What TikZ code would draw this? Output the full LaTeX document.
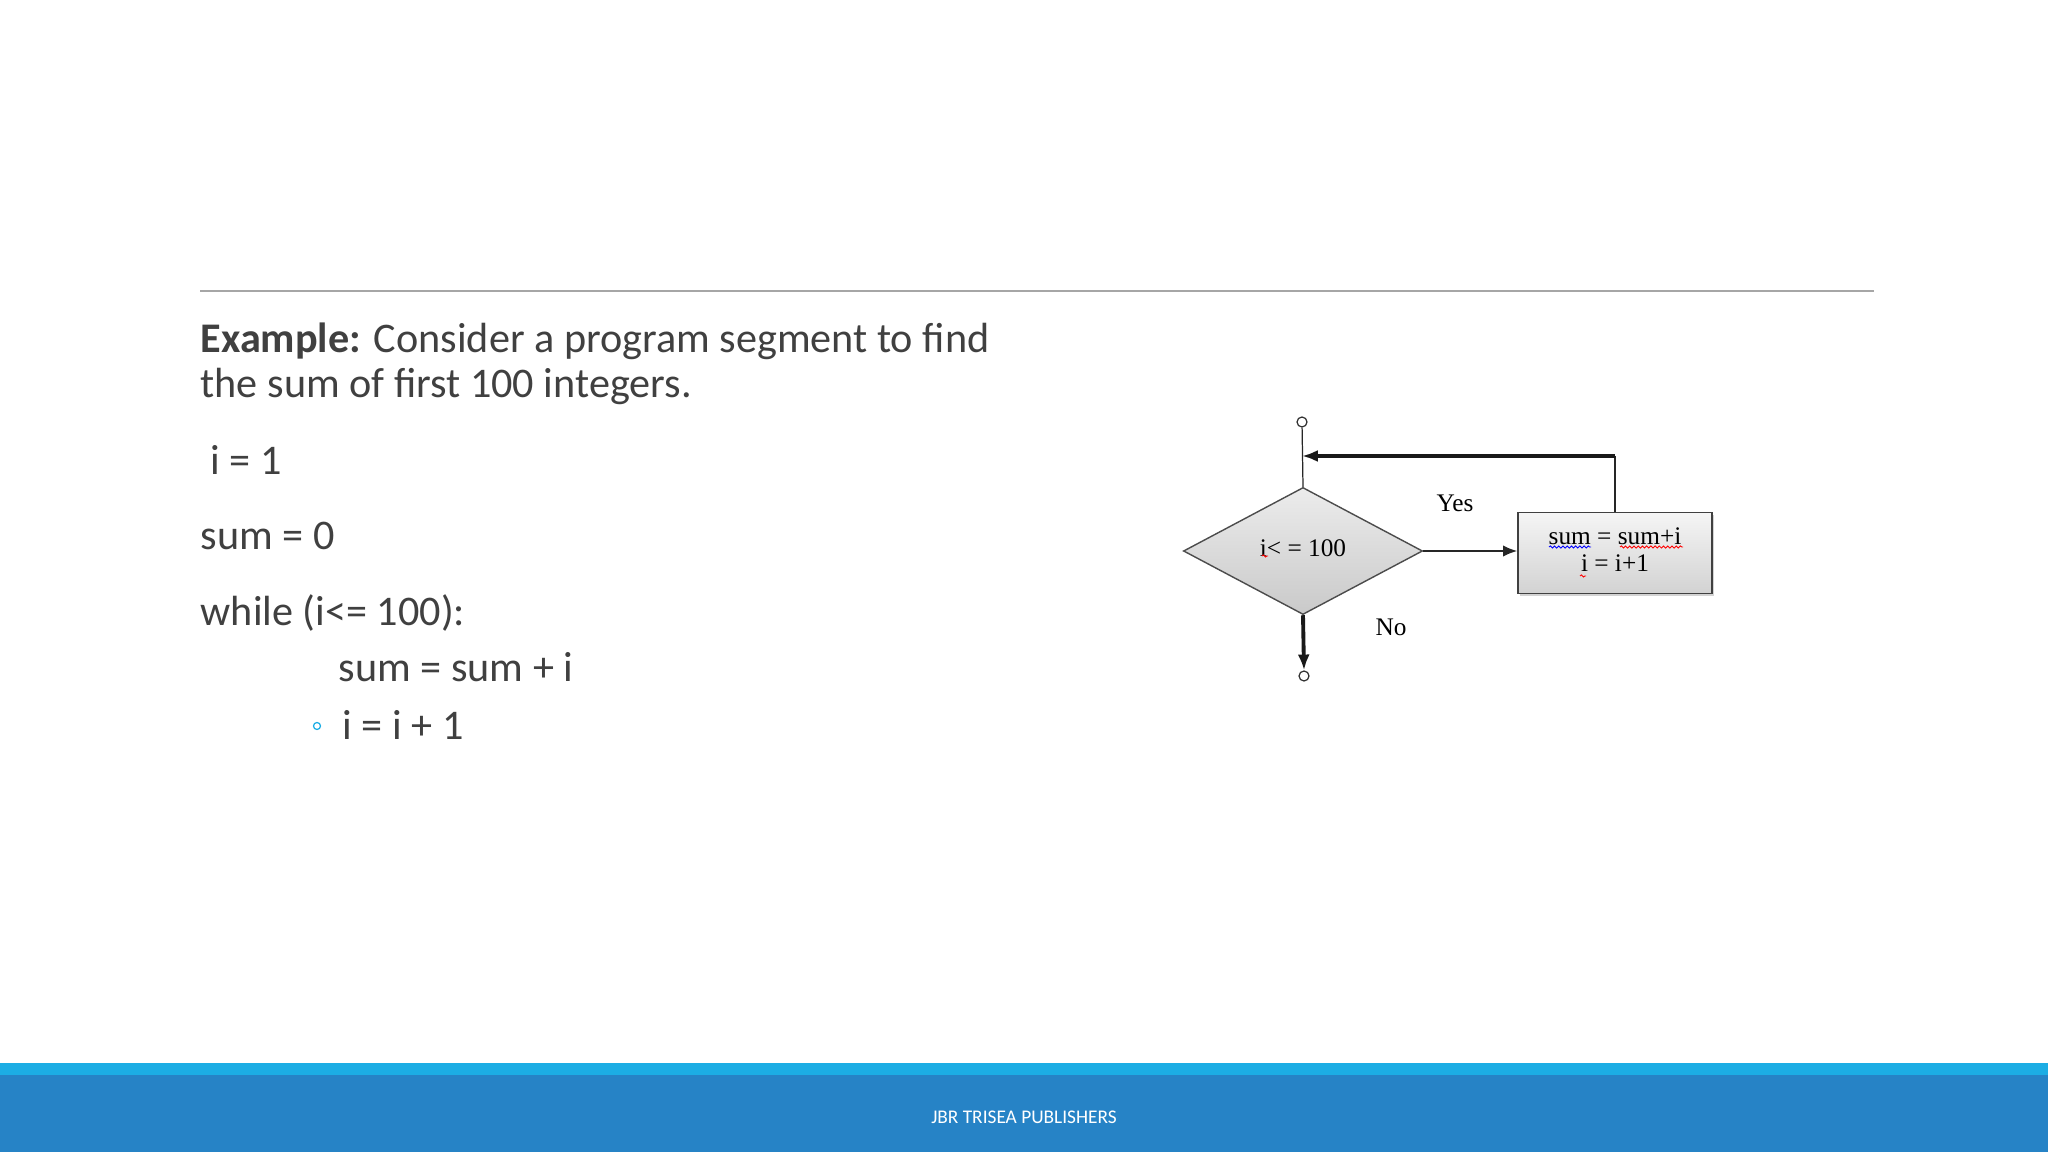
\documentclass[tikz,border=0pt]{standalone}
\usepackage{fontspec}
\setmainfont{Carlito}
\newfontfamily\flowfont{Liberation Serif}
\usetikzlibrary{shapes.geometric}
\usetikzlibrary{shadows}
\usetikzlibrary{arrows.meta}
\usetikzlibrary{decorations.pathmorphing}
\definecolor{slidetext}{HTML}{404040}
\definecolor{accentA}{HTML}{1CADE4}
\definecolor{accentB}{HTML}{2683C6}
\definecolor{rulegray}{HTML}{A6A6A6}

\begin{document}
\begin{tikzpicture}[x=0.01cm, y=-0.01cm,
  slide/.style={anchor=base west, inner sep=0, text=slidetext, font=\fontsize{12}{14}\selectfont},
  term/.style={circle, draw=black!80, fill=white, line width=0.35pt, minimum size=0.1cm, inner sep=0},
  dec/.style={diamond, draw=black!70, line width=0.4pt, top color=gray!15, bottom color=gray!42, minimum width=2.39cm, minimum height=1.27cm, inner sep=0, font=\flowfont\fontsize{7.2}{7.7}\selectfont},
  proc/.style={rectangle, draw=black!75, line width=0.5pt, top color=gray!8, bottom color=gray!35, minimum width=1.94cm, minimum height=0.81cm, inner sep=0, font=\flowfont\fontsize{7.2}{7.7}\selectfont, drop shadow={shadow xshift=0.6pt, shadow yshift=-0.6pt, opacity=0.35}},
  flowlbl/.style={inner sep=0, font=\flowfont\fontsize{7.2}{8}\selectfont},
  flowline/.style={draw=black!85, line width=0.35pt},
  flowarrow/.style={flowline, -{Latex[length=4pt, width=3.2pt]}},
  boldarrow/.style={draw=black!90, line width=1.1pt, -{Latex[length=4.5pt, width=3.4pt]}},
  wavy/.style={line width=0.25pt, decorate, decoration={snake, segment length=1.2pt, amplitude=0.3pt}}]

 \useasboundingbox (0,0) rectangle (2048,1152);

 %footer
 \fill[accentA] (0,1063) rectangle (2048,1075);
 \fill[accentB] (0,1075) rectangle (2048,1152);
 \node[text=white, inner sep=0, font=\fontsize{5.5}{6}\selectfont] (pub) at (1024,1117) {JBR TRISEA PUBLISHERS};

 %rule
 \draw[rulegray, line width=0.45pt] (200,291) -- (1874,291);

 %text
 \node[slide] (ex1) at (200,353) {\textbf{Example:} Consider a program segment to find};
 \node[slide] (ex2) at (200,398) {the sum of first 100 integers.};
 \node[slide] (ln1) at (210,475) {i = 1};
 \node[slide] (ln2) at (200,550) {sum = 0};
 \node[slide] (ln3) at (200,626) {while (i<= 100):};
 \node[slide] (ln4) at (338,682) {sum = sum + i};
 \node[circle, draw=accentA, line width=0.35pt, minimum size=0.07cm, inner sep=0] (bul) at (317,726) {};
 \node[slide] (ln5) at (342,739) {i = i + 1};

 %flowchart
 \node[term] (S) at (1302,422) {};
 \node[dec] (D) at (1303,551) {\raisebox{1.6pt}{i< = 100}};
 \node[proc] (P) at (1615,553) {\raisebox{0.9pt}{\begin{tabular}{@{}c@{}}sum = sum+i\\ i = i+1\end{tabular}}};
 \node[term] (E) at (1304,676) {};
 \coordinate (J) at (1302,456);
 \coordinate (K) at (P.north |- J);

 \draw[flowline] (S) -- (D.north);
 \draw[flowarrow] (D.east) -- (D.east -| P.west);
 \draw[flowline] (P.north) -- (K);
 %arrow
 \draw[boldarrow] (K) -- (J);
 \draw[boldarrow] (D.south) -- (E.north);

 \node[flowlbl] (yes) at (1455,503) {Yes};
 \node[flowlbl] (no) at (1391,627) {No};

 %spelling marks
 \draw[wavy, blue] (1549,547) -- (1591,547);
 \draw[wavy, red] (1620,547) -- (1683,547);
 \draw[wavy, red] (1580,576) -- (1586,576);
 \draw[wavy, red] (1262,556) -- (1268,556);

\end{tikzpicture}
\end{document}
